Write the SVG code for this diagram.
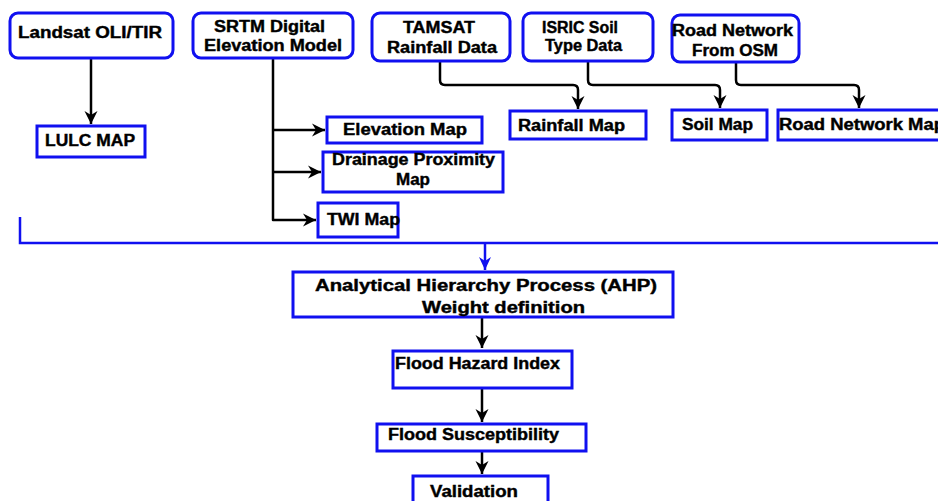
<svg xmlns="http://www.w3.org/2000/svg" width="938" height="501" viewBox="0 0 938 501">
<style>
.box{fill:#fff;stroke:#1010f0;stroke-width:3}
.t{font-family:"Liberation Sans",Arial,sans-serif;font-weight:bold;font-size:16px;fill:#000;stroke:#000;stroke-width:0.4}
.c{fill:none;stroke:#000;stroke-width:2.5;stroke-linejoin:round}
.b{fill:none;stroke:#1010f0;stroke-width:2.5}
</style>
<defs>
<marker id="ah" markerUnits="userSpaceOnUse" markerWidth="16" markerHeight="16" refX="14" refY="8" orient="auto">
<path d="M1,1.5 L14,8 L1,14.5 L5,8 z" fill="#000"/>
</marker>
<marker id="ahb" markerUnits="userSpaceOnUse" markerWidth="16" markerHeight="16" refX="14" refY="8" orient="auto">
<path d="M1,2 L14,8 L1,14 L5,8 z" fill="#1010f0"/>
</marker>
</defs>
<rect width="938" height="501" fill="#fff"/>
<g id="connectors">
<path class="c" d="M91,58 V124" marker-end="url(#ah)"/>
<path class="c" d="M273,58 V220 H316" marker-end="url(#ah)"/>
<path class="c" d="M273,130 H325" marker-end="url(#ah)"/>
<path class="c" d="M273,172 H321" marker-end="url(#ah)"/>
<path class="c" d="M440,62 V80 Q440,85 445,85 H573 Q578,85 578,90 V109" marker-end="url(#ah)"/>
<path class="c" d="M588,62 V80 Q588,85 593,85 H715 Q720,85 720,90 V108" marker-end="url(#ah)"/>
<path class="c" d="M736,62 V80 Q736,85 741,85 H854 Q859,85 859,90 V108" marker-end="url(#ah)"/>
<path class="b" d="M20,217 V243 H938"/>
<path class="b" d="M485,243 V270" marker-end="url(#ahb)"/>
<path class="c" d="M482,317 V348" marker-end="url(#ah)"/>
<path class="c" d="M482,388 V422" marker-end="url(#ah)"/>
<path class="c" d="M482,451 V474" marker-end="url(#ah)"/>
</g>
<g id="landsat"><rect class="box" x="10" y="13" width="163" height="45" rx="8"/><text class="t" x="18" y="38" textLength="144" lengthAdjust="spacingAndGlyphs">Landsat OLI/TIR</text></g>
<g id="srtm"><rect class="box" x="193" y="13" width="160" height="45" rx="8"/><text class="t" x="214" y="31.5" textLength="111" lengthAdjust="spacingAndGlyphs">SRTM Digital</text><text class="t" x="204" y="51" textLength="138" lengthAdjust="spacingAndGlyphs">Elevation Model</text></g>
<g id="tamsat"><rect class="box" x="372" y="13" width="138" height="48" rx="8"/><text class="t" x="403" y="32.5" textLength="72" lengthAdjust="spacingAndGlyphs">TAMSAT</text><text class="t" x="387" y="53" textLength="110" lengthAdjust="spacingAndGlyphs">Rainfall Data</text></g>
<g id="isric"><rect class="box" x="523" y="13" width="130" height="48" rx="8"/><text class="t" x="542" y="32.5" textLength="76" lengthAdjust="spacingAndGlyphs">ISRIC Soil</text><text class="t" x="545" y="51" textLength="77" lengthAdjust="spacingAndGlyphs">Type Data</text></g>
<g id="road"><rect class="box" x="672" y="15" width="127" height="47" rx="8"/><text class="t" x="672" y="36" textLength="121" lengthAdjust="spacingAndGlyphs">Road Network</text><text class="t" x="692" y="56" textLength="86" lengthAdjust="spacingAndGlyphs">From OSM</text></g>
<g id="lulc"><rect class="box" x="37" y="126" width="108" height="31"/><text class="t" x="45" y="146" textLength="90" lengthAdjust="spacingAndGlyphs">LULC MAP</text></g>
<g id="elevation"><rect class="box" x="327" y="117" width="155" height="26"/><text class="t" x="343" y="135" textLength="124" lengthAdjust="spacingAndGlyphs">Elevation Map</text></g>
<g id="rainfall"><rect class="box" x="510" y="111" width="136" height="28"/><text class="t" x="518" y="131" textLength="107" lengthAdjust="spacingAndGlyphs">Rainfall Map</text></g>
<g id="soil"><rect class="box" x="672" y="110" width="95" height="30"/><text class="t" x="682" y="130" textLength="71" lengthAdjust="spacingAndGlyphs">Soil Map</text></g>
<g id="roadmap"><rect class="box" x="778" y="110" width="170" height="30"/><text class="t" x="779" y="130" textLength="166" lengthAdjust="spacingAndGlyphs">Road Network Map</text></g>
<g id="drainage"><rect class="box" x="323" y="152" width="180" height="40"/><text class="t" x="332" y="165" textLength="163" lengthAdjust="spacingAndGlyphs">Drainage Proximity</text><text class="t" x="396" y="185" textLength="34" lengthAdjust="spacingAndGlyphs">Map</text></g>
<g id="twi"><rect class="box" x="318" y="203" width="80" height="34"/><text class="t" x="327" y="225" textLength="73" lengthAdjust="spacingAndGlyphs">TWI Map</text></g>
<g id="ahp"><rect class="box" x="293" y="272" width="380" height="45"/><text class="t" x="315" y="291" font-size="17" textLength="342" lengthAdjust="spacingAndGlyphs">Analytical Hierarchy Process (AHP)</text><text class="t" x="422" y="313" font-size="17" textLength="163" lengthAdjust="spacingAndGlyphs">Weight definition</text></g>
<g id="fhi"><rect class="box" x="393" y="351" width="179" height="37"/><text class="t" x="395" y="369" textLength="165" lengthAdjust="spacingAndGlyphs">Flood Hazard Index</text></g>
<g id="fs"><rect class="box" x="377" y="424" width="209" height="27"/><text class="t" x="388" y="440" textLength="171" lengthAdjust="spacingAndGlyphs">Flood Susceptibility</text></g>
<g id="validation"><rect class="box" x="413" y="476" width="135" height="30"/><text class="t" x="430" y="497" textLength="88" lengthAdjust="spacingAndGlyphs">Validation</text></g>
</svg>
